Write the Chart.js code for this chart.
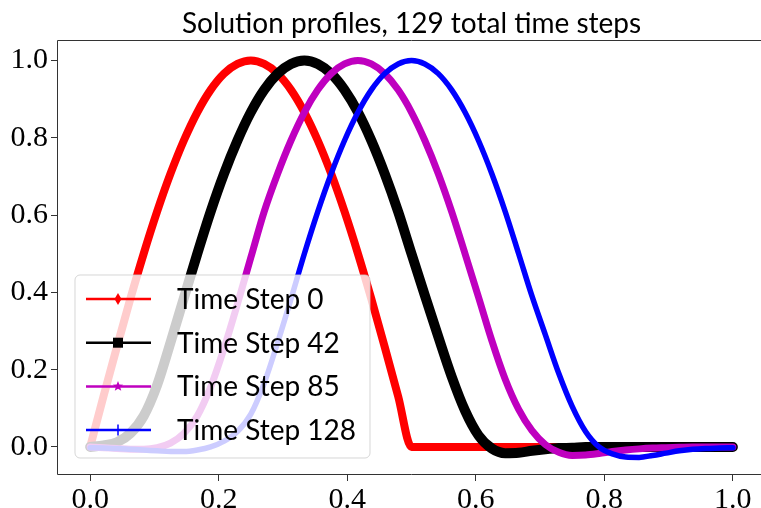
<!DOCTYPE html>
<html>
<head>
<meta charset="utf-8">
<script src="https://cdn.jsdelivr.net/npm/chart.js@4.4.0/dist/chart.umd.min.js"></script>
<style>
  html, body { margin: 0; padding: 0; overflow: hidden; background: #fff; }
  #wrap { width: 761px; height: 508px; overflow: hidden; position: relative; }
  #myChart { position: absolute; left: 0; top: 0; }
</style>
</head>
<body>
<div id="wrap"><canvas id="myChart" width="800" height="520"></canvas></div>
<script>
// grid positions (x) shared by all profiles
var xValues = [0, 0.0208, 0.0417, 0.0625, 0.0833, 0.1042, 0.125, 0.1458, 0.1667, 0.1875,
  0.2083, 0.2292, 0.25, 0.2708, 0.2917, 0.3125, 0.3333, 0.3542, 0.375, 0.3958,
  0.4167, 0.4375, 0.4583, 0.4792, 0.5, 0.5208, 0.5417, 0.5625, 0.5833, 0.6042,
  0.625, 0.6458, 0.6667, 0.6875, 0.7083, 0.7292, 0.75, 0.7708, 0.7917, 0.8125,
  0.8333, 0.8542, 0.875, 0.8958, 0.9167, 0.9375, 0.9583, 0.9792, 1.0];

// values
var step0 = [0, 0.131, 0.259, 0.383, 0.5, 0.609, 0.707, 0.793, 0.866, 0.924,
  0.966, 0.991, 1.0, 0.991, 0.966, 0.924, 0.866, 0.793, 0.707, 0.609,
  0.5, 0.383, 0.259, 0.131, 0, 0, 0, 0, 0, 0,
  0, 0, 0, 0, 0, 0, 0, 0, 0, 0,
  0, 0, 0, 0, 0, 0, 0, 0, 0];
var step42 = [0, 0.004, 0.012, 0.035, 0.08, 0.16, 0.27, 0.385, 0.5, 0.609,
  0.707, 0.793, 0.866, 0.924, 0.966, 0.991, 1.0, 0.991, 0.966, 0.924,
  0.866, 0.793, 0.707, 0.609, 0.5, 0.392, 0.285, 0.182, 0.094, 0.03,
  -0.004, -0.016, -0.015, -0.01, -0.006, -0.003, -0.002, 0, 0, 0,
  0, 0, 0, 0, 0, 0, 0, 0, 0];
var step85 = [0, -0.002, -0.004, -0.006, -0.006, -0.002, 0.01, 0.035, 0.08, 0.155,
  0.255, 0.37, 0.49, 0.609, 0.707, 0.793, 0.866, 0.924, 0.966, 0.991,
  1.0, 0.991, 0.966, 0.924, 0.866, 0.793, 0.707, 0.609, 0.5, 0.388,
  0.275, 0.175, 0.097, 0.042, 0.006, -0.014, -0.022, -0.021, -0.017, -0.012,
  -0.008, -0.005, -0.003, -0.002, -0.001, 0, 0, 0, 0];
var step128 = [-0.002, -0.003, -0.004, -0.006, -0.008, -0.01, -0.012, -0.012, -0.008, 0.0,
  0.015, 0.04, 0.085, 0.165, 0.27, 0.383, 0.5, 0.609, 0.707, 0.793,
  0.866, 0.924, 0.966, 0.991, 1.0, 0.991, 0.966, 0.924, 0.866, 0.793,
  0.707, 0.609, 0.5, 0.39, 0.29, 0.19, 0.105, 0.04, 0.0, -0.018,
  -0.026, -0.027, -0.022, -0.016, -0.01, -0.006, -0.004, -0.003, -0.002];

var seriesLabels = ['Time Step 0', 'Time Step 42', 'Time Step 85', 'Time Step 128'];
var xTicks = [0, 0.2, 0.4, 0.6, 0.8, 1.0];
var yTicks = [0, 0.2, 0.4, 0.6, 0.8, 1.0];
var titleText = 'Solution profiles, 129 total time steps';

var colors = ['#ff0000', '#000000', '#bf00bf', '#0000ff'];
var widths = [8, 10, 7, 5.5];
var markers = ['diamond', 'square', 'star', 'plus'];

function toPoints(ys) {
  return ys.map(function(y, i) { return { x: xValues[i], y: y }; });
}

function drawMarker(ctx, kind, x, y, color) {
  ctx.save();
  ctx.fillStyle = color;
  ctx.strokeStyle = color;
  ctx.beginPath();
  if (kind == 'diamond') {
    ctx.moveTo(x, y - 6); ctx.lineTo(x + 3.5, y); ctx.lineTo(x, y + 6); ctx.lineTo(x - 3.5, y);
    ctx.closePath(); ctx.fill();
  } else if (kind == 'square') {
    ctx.rect(x - 5, y - 5, 10, 10); ctx.fill();
  } else if (kind == 'star') {
    for (var i = 0; i < 10; i++) {
      var r = (i % 2 == 0) ? 5.5 : 2.3;
      var a = -Math.PI / 2 + i * Math.PI / 5;
      if (i == 0) ctx.moveTo(x + r * Math.cos(a), y + r * Math.sin(a));
      else ctx.lineTo(x + r * Math.cos(a), y + r * Math.sin(a));
    }
    ctx.closePath(); ctx.fill();
  } else {
    ctx.lineWidth = 1.5;
    ctx.moveTo(x, y - 5.5); ctx.lineTo(x, y + 5.5);
    ctx.stroke();
  }
  ctx.restore();
}

// title, frame and the legend over the plot
var decorations = {
  id: 'decorations',
  afterDatasetsDraw: function(chart) {
    var ctx = chart.ctx;
    var a = chart.chartArea;
    ctx.save();

    // legend box
    var bx = a.left + 17, by = a.top + 235, bw = 295, bh = 183, rad = 5;
    ctx.beginPath();
    ctx.moveTo(bx + rad, by);
    ctx.arcTo(bx + bw, by, bx + bw, by + bh, rad);
    ctx.arcTo(bx + bw, by + bh, bx, by + bh, rad);
    ctx.arcTo(bx, by + bh, bx, by, rad);
    ctx.arcTo(bx, by, bx + bw, by, rad);
    ctx.closePath();
    ctx.fillStyle = 'rgba(255,255,255,0.8)';
    ctx.fill();
    ctx.strokeStyle = 'rgba(204,204,204,0.8)';
    ctx.lineWidth = 1;
    ctx.stroke();

    ctx.font = '28px Lato';
    ctx.textAlign = 'left';
    ctx.textBaseline = 'alphabetic';
    for (var i = 0; i < seriesLabels.length; i++) {
      var ry = by + 24 + i * 43.7;
      ctx.strokeStyle = colors[i];
      ctx.lineWidth = 2.5;
      ctx.beginPath();
      ctx.moveTo(bx + 11, ry);
      ctx.lineTo(bx + 76, ry);
      ctx.stroke();
      drawMarker(ctx, markers[i], bx + 43, ry, colors[i]);
      ctx.fillStyle = '#000';
      ctx.fillText(seriesLabels[i], bx + 102, ry + 10);
    }

    // frame: the right spine falls outside the window, so only left, top, bottom
    var l = Math.round(a.left) - 0.5, t = Math.round(a.top) + 0.5;
    var r = Math.round(a.right) + 0.5, b = Math.round(a.bottom) + 0.5;
    ctx.strokeStyle = '#333';
    ctx.lineWidth = 1;
    ctx.beginPath();
    ctx.moveTo(r, t); ctx.lineTo(l, t); ctx.lineTo(l, b); ctx.lineTo(r, b);
    ctx.stroke();

    // title
    ctx.fillStyle = '#000';
    ctx.font = '28px Lato';
    ctx.textAlign = 'center';
    ctx.fillText(titleText, (a.left + a.right) / 2, 33);
    ctx.restore();
  }
};

var datasets = [step0, step42, step85, step128].map(function(ys, i) {
  return {
    label: seriesLabels[i],
    data: toPoints(ys),
    borderColor: colors[i],
    backgroundColor: colors[i],
    borderWidth: widths[i],
    pointRadius: 0,
    cubicInterpolationMode: 'monotone',
    borderJoinStyle: 'round',
    borderCapStyle: 'round',
    fill: false,
    order: 3 - i
  };
});

var tickFont = { family: 'Liberation Serif', size: 30 };

var myLineChart = new Chart($('#myChart'), {
  type: 'line',
  data: { datasets: datasets },
  plugins: [decorations],
  options: {
    responsive: false,
    animation: false,
    layout: { padding: { top: 40, right: 35, left: 0, bottom: 0 } },
    plugins: {
      legend: { display: false },
      tooltip: { enabled: false },
      title: { display: false }
    },
    scales: {
      x: {
        type: 'linear',
        min: -0.05,
        max: 1.05,
        afterBuildTicks: function(s) { s.ticks = xTicks.map(function(v) { return { value: v }; }); },
        afterFit: function(s) { s.height = 46; },
        ticks: { font: tickFont, color: '#000', padding: 1, maxRotation: 0,
          callback: function(v) { return v.toFixed(1); } },
        grid: { drawOnChartArea: false, drawTicks: true, tickLength: 7, color: '#333' },
        border: { display: false }
      },
      y: {
        min: -0.07,
        max: 1.053,
        afterBuildTicks: function(s) { s.ticks = yTicks.map(function(v) { return { value: v }; }); },
        afterFit: function(s) { s.width = 58; },
        ticks: { font: tickFont, color: '#000', padding: 3,
          callback: function(v) { return v.toFixed(1); } },
        grid: { drawOnChartArea: false, drawTicks: true, tickLength: 7, color: '#333' },
        border: { display: false }
      }
    }
  }
});

function $(sel) { return document.querySelector(sel); }
</script>
</body>
</html>
